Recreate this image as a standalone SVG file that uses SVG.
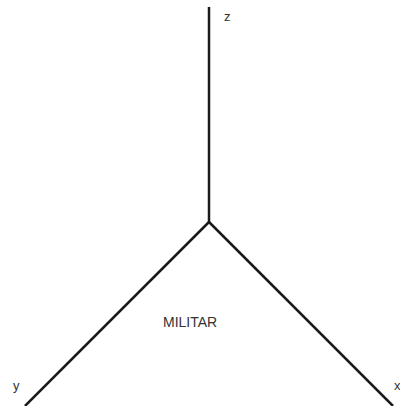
<svg xmlns="http://www.w3.org/2000/svg" width="400" height="406" viewBox="0 0 400 406">
<style>
.ax{stroke:#1a1a1a;stroke-width:2.5;fill:none;stroke-linecap:butt}
.lb{font-family:"Liberation Sans",Arial,sans-serif;font-size:13px;fill:#333}
</style>
<rect width="400" height="406" fill="#fff"/>
<g id="connectors">
<line class="ax" x1="209" y1="222" x2="209" y2="7"/>
<line class="ax" x1="209" y1="222" x2="25" y2="406"/>
<line class="ax" x1="209" y1="222" x2="393" y2="406"/>
</g>
<g id="z"><text class="lb" x="224" y="21">z</text></g>
<g id="y"><text class="lb" x="13" y="390">y</text></g>
<g id="x"><text class="lb" x="394" y="390">x</text></g>
<g id="militar"><text class="lb" x="163" y="327" style="font-size:14px">MILITAR</text></g>
</svg>
